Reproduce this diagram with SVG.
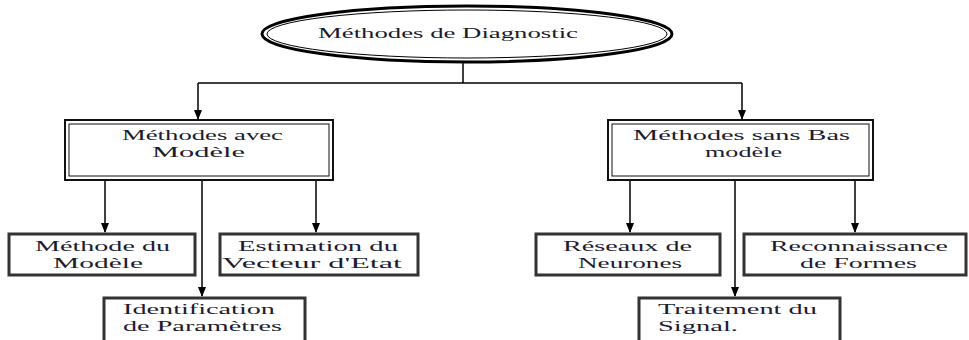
<svg xmlns="http://www.w3.org/2000/svg" width="969" height="340" viewBox="0 0 969 340">
<style>
.t{font-family:"Liberation Serif","DejaVu Serif",serif;font-size:15px;fill:#1c1c30}
.ln{stroke:#000;stroke-width:1.5;fill:none}
.bo{fill:#fff;stroke:#111;stroke-width:2}
.bi{fill:none;stroke:#111;stroke-width:1}
.sb{fill:#fff;stroke:#333;stroke-width:3}
</style>
<defs>
<marker id="ar" markerWidth="10" markerHeight="8" refX="9" refY="4" orient="auto" markerUnits="userSpaceOnUse">
<path d="M0,0 L10,4 L0,8 z" fill="#000"/>
</marker>
</defs>
<g id="connectors">
<path class="ln" d="M463,62 V83"/>
<path class="ln" d="M198,83 H742"/>
<path class="ln" d="M198,83 V119" marker-end="url(#ar)"/>
<path class="ln" d="M742,83 V119" marker-end="url(#ar)"/>
<path class="ln" d="M105,180 V232" marker-end="url(#ar)"/>
<path class="ln" d="M202,180 V296" marker-end="url(#ar)"/>
<path class="ln" d="M316,180 V232" marker-end="url(#ar)"/>
<path class="ln" d="M630,180 V232" marker-end="url(#ar)"/>
<path class="ln" d="M735,180 V296" marker-end="url(#ar)"/>
<path class="ln" d="M855,180 V232" marker-end="url(#ar)"/>
</g>
<g id="root">
<ellipse cx="467" cy="34" rx="205" ry="28" fill="#fff" stroke="#000" stroke-width="3"/>
<ellipse cx="467" cy="34" rx="200" ry="24" fill="none" stroke="#000" stroke-width="1"/>
<text class="t" x="318" y="38" textLength="260" lengthAdjust="spacingAndGlyphs">Méthodes de Diagnostic</text>
</g>
<g id="avec">
<rect class="bo" x="65" y="120" width="268" height="60"/>
<rect class="bi" x="69" y="124" width="260" height="52"/>
<text class="t" x="122" y="140" textLength="161" lengthAdjust="spacingAndGlyphs">Méthodes avec</text>
<text class="t" x="152" y="157" textLength="93" lengthAdjust="spacingAndGlyphs">Modèle</text>
</g>
<g id="sans">
<rect class="bo" x="608" y="120" width="265" height="60"/>
<rect class="bi" x="612" y="124" width="257" height="52"/>
<text class="t" x="633" y="140" textLength="217" lengthAdjust="spacingAndGlyphs">Méthodes sans Bas</text>
<text class="t" x="705" y="157" textLength="77" lengthAdjust="spacingAndGlyphs">modèle</text>
</g>
<g id="methode-modele">
<rect class="sb" x="9" y="234" width="186" height="41"/>
<text class="t" x="35" y="251" textLength="135" lengthAdjust="spacingAndGlyphs">Méthode du</text>
<text class="t" x="53" y="268" textLength="90" lengthAdjust="spacingAndGlyphs">Modèle</text>
</g>
<g id="estimation">
<rect class="sb" x="220" y="234" width="198" height="41"/>
<text class="t" x="238" y="251" textLength="160" lengthAdjust="spacingAndGlyphs">Estimation du</text>
<text class="t" x="222" y="268" textLength="180" lengthAdjust="spacingAndGlyphs">Vecteur d'Etat</text>
</g>
<g id="identification">
<rect class="sb" x="104" y="298" width="201" height="50"/>
<text class="t" x="123" y="314" textLength="152" lengthAdjust="spacingAndGlyphs">Identification</text>
<text class="t" x="123" y="331" textLength="159" lengthAdjust="spacingAndGlyphs">de Paramètres</text>
</g>
<g id="reseaux">
<rect class="sb" x="536" y="234" width="184" height="41"/>
<text class="t" x="563" y="251" textLength="129" lengthAdjust="spacingAndGlyphs">Réseaux de</text>
<text class="t" x="578" y="268" textLength="104" lengthAdjust="spacingAndGlyphs">Neurones</text>
</g>
<g id="reconnaissance">
<rect class="sb" x="744" y="234" width="222" height="41"/>
<text class="t" x="770" y="251" textLength="178" lengthAdjust="spacingAndGlyphs">Reconnaissance</text>
<text class="t" x="800" y="268" textLength="117" lengthAdjust="spacingAndGlyphs">de Formes</text>
</g>
<g id="traitement">
<rect class="sb" x="639" y="298" width="201" height="50"/>
<text class="t" x="658" y="314" textLength="159" lengthAdjust="spacingAndGlyphs">Traitement du</text>
<text class="t" x="658" y="331" textLength="80" lengthAdjust="spacingAndGlyphs">Signal.</text>
</g>
</svg>
